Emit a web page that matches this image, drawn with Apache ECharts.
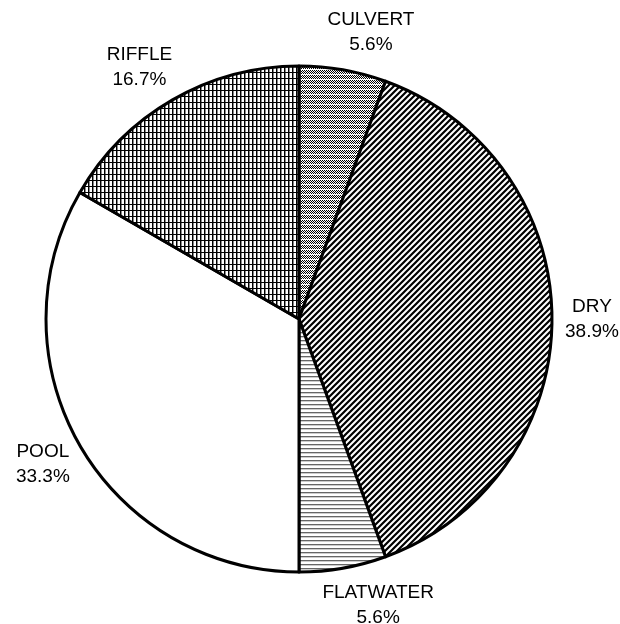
<!DOCTYPE html>
<html>
<head>
    <meta charset="utf-8">
    <title>Habitat types</title>
    <script src="https://cdn.jsdelivr.net/npm/echarts@6/dist/echarts.min.js"></script>
    <style>
        html, body { margin: 0; padding: 0; background: #fff; }
        #chart { width: 620px; height: 624px; }
    </style>
</head>
<body>
    <div id="chart"></div>
    <script type="text/javascript">
        // data (counts out of 18 sites)
        var categories = ['CULVERT', 'DRY', 'FLATWATER', 'POOL', 'RIFFLE'];
        var counts = [1, 7, 1, 6, 3];

        var total = 0, cum = [];
        for (var i = 0; i < counts.length; i++) { cum.push(total); total += counts[i]; }

        var cx = 299, cy = 319, R = 253;

        // little canvas tiles used as fill patterns
        function tile(w, h, draw) {
            var c = document.createElement('canvas');
            c.width = w; c.height = h;
            var ctx = c.getContext('2d');
            ctx.fillStyle = '#fff';
            ctx.fillRect(0, 0, w, h);
            draw(ctx, w, h);
            return { image: c, repeat: 'repeat' };
        }
        var fills = {
            CULVERT: tile(2, 5, function (ctx) {
                ctx.fillStyle = '#000';
                for (var y = 0; y < 4; y++)
                    for (var x = 0; x < 2; x++)
                        if ((x + y) % 2 == 0) ctx.fillRect(x, y, 1, 1);
            }),
            DRY: tile(6, 6, function (ctx, w, h) {
                ctx.strokeStyle = '#000';
                ctx.lineWidth = 2.2;
                ctx.beginPath();
                ctx.moveTo(-1, h + 1); ctx.lineTo(w + 1, -1);
                ctx.moveTo(-2, 2); ctx.lineTo(2, -2);
                ctx.moveTo(w - 2, h + 2); ctx.lineTo(w + 2, h - 2);
                ctx.stroke();
            }),
            FLATWATER: tile(1, 4, function (ctx) {
                ctx.fillStyle = '#666';
                ctx.fillRect(0, 0, 1, 1);
                ctx.fillStyle = '#ccc';
                ctx.fillRect(0, 1, 1, 1);
            }),
            POOL: '#ffffff',
            RIFFLE: tile(4, 6, function (ctx) {
                ctx.fillStyle = '#000';
                ctx.fillRect(0, 0, 1, 6);
                ctx.fillRect(0, 0, 4, 1);
                ctx.fillStyle = '#888';
                ctx.fillRect(1, 1, 1, 5);
            })
        };

        var seriesData = [];
        for (var i = 0; i < categories.length; i++) {
            seriesData.push({
                name: categories[i],
                value: counts[i],
                itemStyle: { color: fills[categories[i]] }
            });
        }

        var myChart = echarts.init(document.getElementById('chart'), null, { renderer: 'canvas' });
        var option = {
            backgroundColor: '#fff',
            animation: false,
            series: [{
                type: 'pie',
                center: [cx, cy],
                radius: [0, R],
                startAngle: 90,
                clockwise: true,
                avoidLabelOverlap: false,
                data: seriesData,
                itemStyle: { borderColor: '#000', borderWidth: 3 },
                emphasis: { disabled: true },
                label: {
                    show: true,
                    position: 'outside',
                    fontFamily: 'Liberation Sans, Arial, sans-serif',
                    fontSize: 19,
                    lineHeight: 25,
                    color: '#000',
                    align: 'center',
                    formatter: function (p) {
                        return p.name + '\n' + (p.value / total * 100).toFixed(1) + '%';
                    }
                },
                labelLine: { show: false },
                // put each label box just outside the rim, along the slice's mid angle
                labelLayout: function (p) {
                    var i = p.dataIndex;
                    var a = (cum[i] + counts[i] / 2) / total * Math.PI * 2;
                    var ux = Math.sin(a), uy = -Math.cos(a);
                    var w = p.labelRect.width, h = p.labelRect.height;
                    var r = R + 13;
                    var sx = ux < 0 ? -1 : 1;
                    return {
                        x: cx + ux * r + sx * Math.pow(Math.abs(ux), 0.3) * w / 2,
                        y: cy + uy * r + uy * h / 2,
                        align: 'center',
                        verticalAlign: 'middle'
                    };
                }
            }]
        };
        myChart.setOption(option);
    </script>
</body>
</html>
